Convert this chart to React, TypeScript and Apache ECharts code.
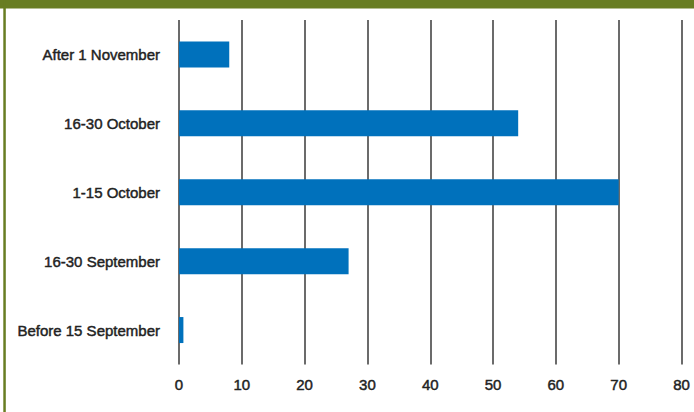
import React, { useEffect, useRef } from "react";
import * as echarts from "echarts";

const categories = [
  "Before 15 September",
  "16-30 September",
  "1-15 October",
  "16-30 October",
  "After 1 November",
];
const values = [0.7, 27, 70, 54, 8];
const xTicks = { min: 0, max: 80, interval: 10 };

export default function App() {
  const ref = useRef<HTMLDivElement>(null);
  useEffect(() => {
    document.body.style.margin = "0";
    const chart = echarts.init(ref.current!, null, { renderer: "svg" });
    const font = "'Liberation Sans', Arial, Helvetica, sans-serif";
    const labelStyle = {
      color: "#222",
      fontSize: 15,
      fontFamily: font,
      textBorderColor: "#222",
      textBorderWidth: 0.45,
    };
    chart.setOption({
      animation: false,
      backgroundColor: "#ffffff",
      grid: { left: 179, right: 12.5, top: 20, bottom: 47.5 },
      xAxis: {
        type: "value",
        min: xTicks.min,
        max: xTicks.max,
        interval: xTicks.interval,
        axisLine: { show: false },
        axisTick: { show: false },
        axisLabel: { ...labelStyle, margin: 12 },
        splitLine: { show: true, lineStyle: { color: "#3a3a3a", width: 1.5 } },
      },
      yAxis: {
        type: "category",
        data: categories,
        axisLine: { show: false },
        axisTick: { show: false },
        axisLabel: { ...labelStyle, margin: 19 },
        splitLine: { show: false },
      },
      series: [
        {
          type: "bar",
          data: values,
          barWidth: 26,
          itemStyle: { color: "#0071bc" },
        },
      ],
      graphic: [
        {
          type: "rect",
          shape: { x: 0, y: 0, width: 694, height: 8.5 },
          style: { fill: "#687d22" },
          silent: true,
        },
        {
          type: "rect",
          shape: { x: 3.3, y: 0, width: 2.5, height: 412 },
          style: { fill: "#687d22" },
          silent: true,
        },
      ],
    });
    return () => chart.dispose();
  }, []);
  return (
    <div
      ref={ref}
      style={{ position: "absolute", left: 0, top: 0, width: 694, height: 412 }}
    />
  );
}
